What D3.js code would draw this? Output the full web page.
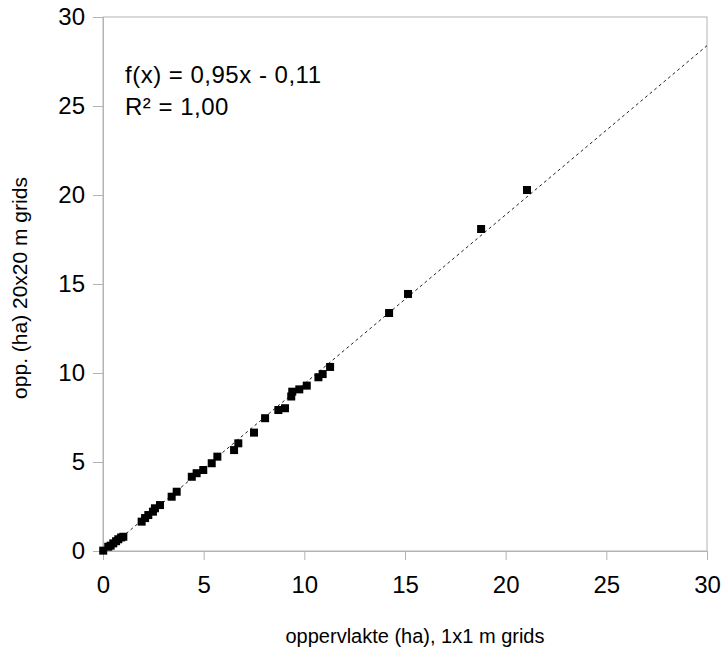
<!DOCTYPE html>
<html>
<head>
<meta charset="utf-8">
<script src="https://cdn.jsdelivr.net/npm/d3@7"></script>
<style>
  body { margin: 0; background: #fff; }
  text { font-family: "Liberation Sans", Arial, sans-serif; fill: #000; }
</style>
</head>
<body>
<svg id="chart" width="726" height="659"></svg>
<script>
// data
const areaFine = [0.01, 0.26, 0.38, 0.51, 0.65, 0.76, 0.90, 1.01, 1.92, 2.09, 2.25, 2.48, 2.58, 2.83,
  3.41, 3.66, 4.41, 4.65, 4.98, 5.40, 5.68, 6.51, 6.72, 7.50, 8.05, 8.71, 9.04, 9.35, 9.40, 9.75,
  10.12, 10.70, 10.91, 11.28, 14.21, 15.15, 18.78, 21.06];
const areaCoarse = [0.02, 0.24, 0.30, 0.43, 0.55, 0.66, 0.76, 0.80, 1.65, 1.85, 2.02, 2.21, 2.40, 2.58,
  3.05, 3.33, 4.17, 4.37, 4.55, 4.93, 5.30, 5.67, 6.05, 6.65, 7.46, 7.92, 8.02, 8.68, 8.95, 9.08,
  9.29, 9.76, 9.94, 10.34, 13.37, 14.44, 18.09, 20.28];
const xTicks = [0, 5, 10, 15, 20, 25, 30];
const yTicks = [0, 5, 10, 15, 20, 25, 30];
const trend = { slope: 0.95, intercept: -0.11 };
const eqLines = ['f(x) = 0,95x - 0,11', 'R² = 1,00'];

const svg = d3.select('#chart');
const plotL = 103, plotR = 707, plotT = 17, plotB = 551;

const x = d3.scaleLinear().domain([0, 30]).range([plotL, plotR]);
const y = d3.scaleLinear().domain([0, 30]).range([plotB, plotT]);

// plot frame
svg.append('rect')
  .attr('x', plotL).attr('y', plotT)
  .attr('width', plotR - plotL).attr('height', plotB - plotT)
  .attr('fill', 'none').attr('stroke', '#b3b3b3').attr('stroke-width', 1);

// axes
const xAxis = svg.append('g')
  .attr('transform', 'translate(0,' + plotB + ')')
  .call(d3.axisBottom(x).tickValues(xTicks).tickSize(9).tickPadding(16).tickFormat(d3.format('d')));
const yAxis = svg.append('g')
  .attr('transform', 'translate(' + plotL + ',0)')
  .call(d3.axisLeft(y).tickValues(yTicks).tickSize(10).tickPadding(8).tickFormat(d3.format('d')));

[xAxis, yAxis].forEach(function(g) {
  g.select('.domain').attr('stroke', '#b3b3b3');
  g.selectAll('.tick line').attr('stroke', '#b3b3b3');
  g.selectAll('.tick text')
    .attr('font-family', '"Liberation Sans", Arial, sans-serif')
    .attr('font-size', 24).attr('fill', '#000');
});

// clip for the trend line
svg.append('clipPath').attr('id', 'plotclip')
  .append('rect').attr('x', plotL).attr('y', plotT)
  .attr('width', plotR - plotL).attr('height', plotB - plotT);

// trend line
const line = d3.line().x(d => x(d)).y(d => y(trend.slope * d + trend.intercept));
svg.append('path')
  .datum([0, 30])
  .attr('d', line)
  .attr('clip-path', 'url(#plotclip)')
  .attr('fill', 'none')
  .attr('stroke', '#222')
  .attr('stroke-width', 1)
  .attr('stroke-dasharray', '3,3');

// points
const sz = 8;
svg.append('g').selectAll('rect')
  .data(areaFine.map((v, i) => [v, areaCoarse[i]]))
  .join('rect')
  .attr('x', d => x(d[0]) - sz / 2)
  .attr('y', d => y(d[1]) - sz / 2)
  .attr('width', sz).attr('height', sz)
  .attr('fill', '#000');

// equation
svg.append('g').selectAll('text')
  .data(eqLines)
  .join('text')
  .attr('x', 125)
  .attr('y', (d, i) => 83 + i * 32)
  .attr('font-size', 24)
  .attr('letter-spacing', 0.5)
  .text(d => d);

// axis titles
svg.append('text')
  .attr('x', 415).attr('y', 643)
  .attr('text-anchor', 'middle')
  .attr('font-size', 20)
  .text('oppervlakte (ha), 1x1 m grids');

svg.append('text')
  .attr('transform', 'translate(27,288) rotate(-90)')
  .attr('text-anchor', 'middle')
  .attr('font-size', 21)
  .text('opp. (ha) 20x20 m grids');
</script>
</body>
</html>
